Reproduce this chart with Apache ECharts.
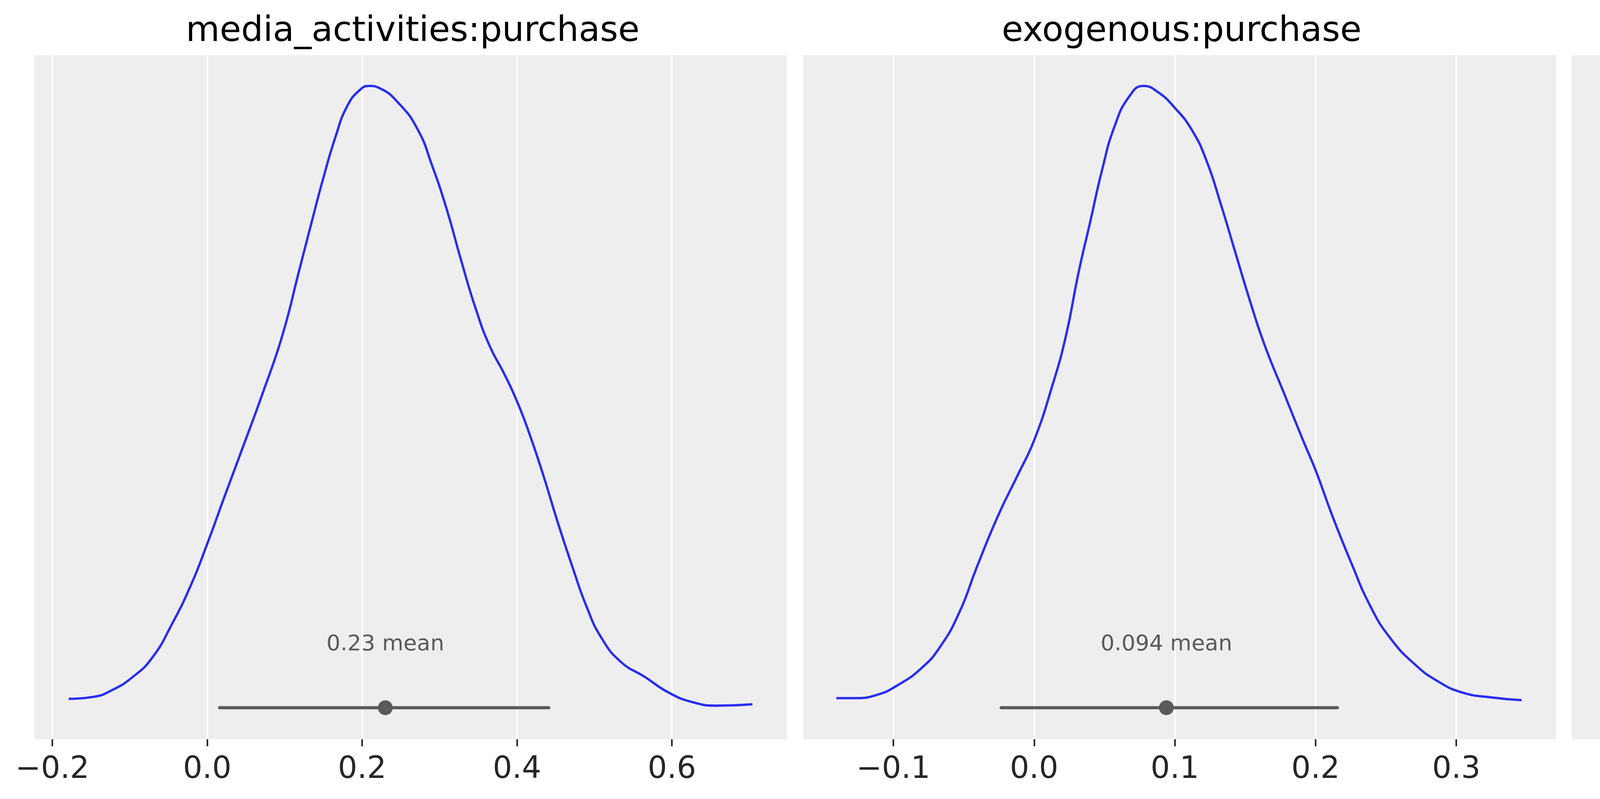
<!DOCTYPE html>
<html>
<head>
<meta charset="utf-8">
<title>posterior</title>
<script src="https://cdn.jsdelivr.net/npm/echarts@6/dist/echarts.min.js"></script>
<style>
html, body { margin: 0; padding: 0; background: #fff; }
#posterior { width: 6046px; height: 2046px; }
</style>
</head>
<body>
<div id="posterior"></div>
<script>
// panel titles
var titles = ['media_activities:purchase', 'exogenous:purchase', 'brand_search:purchase'];

// kde curves: [value, height] (height on a 0..100 scale)
var mediaKde = [
    [-0.179, 6.1], [-0.146, 6.4], [-0.124, 7.3], [-0.096, 9.3], [-0.071, 12.1], [-0.046, 16.9],
    [-0.021, 22.7], [0.0, 28.7], [0.022, 35.5], [0.047, 43.1], [0.072, 50.8], [0.097, 59.1],
    [0.119, 68.7], [0.135, 75.7], [0.150, 82.1], [0.166, 88.2], [0.181, 92.6], [0.197, 94.9],
    [0.209, 95.5], [0.222, 95.2], [0.247, 93.0], [0.272, 89.1], [0.290, 84.0], [0.309, 77.6],
    [0.328, 70.0], [0.347, 62.9], [0.365, 57.5], [0.384, 53.4], [0.400, 49.5], [0.415, 45.1],
    [0.434, 38.7], [0.453, 31.7], [0.472, 25.2], [0.490, 19.5], [0.509, 15.0], [0.534, 11.5],
    [0.565, 9.3], [0.596, 7.0], [0.627, 5.6], [0.658, 5.1], [0.704, 5.3]
];
var exogenousKde = [
    [-0.1405, 6.2], [-0.1268, 6.2], [-0.1113, 6.7], [-0.0976, 8.0], [-0.0804, 10.5], [-0.0667, 13.7],
    [-0.0529, 18.8], [-0.0409, 25.2], [-0.0254, 32.9], [-0.0117, 38.7], [0.0, 43.8], [0.0124, 51.4],
    [0.0227, 59.1], [0.0313, 68.0], [0.0399, 75.7], [0.0485, 83.4], [0.0570, 89.5], [0.0674, 93.9],
    [0.0777, 95.5], [0.0880, 94.6], [0.1000, 92.3], [0.1120, 89.1], [0.1223, 84.7], [0.1326, 78.3],
    [0.1430, 71.2], [0.1533, 64.2], [0.1636, 57.8], [0.1773, 50.8], [0.1911, 43.8], [0.2003, 39.3],
    [0.2117, 32.9], [0.2254, 25.9], [0.2392, 19.5], [0.2529, 15.0], [0.2701, 11.2], [0.2873, 8.6],
    [0.3045, 7.0], [0.3251, 6.3], [0.3464, 5.9]
];
var brandKde = [
    [0.1238, 6.2], [0.1312, 6.1], [0.1473, 5.7], [0.1617, 6.1], [0.1778, 7.0], [0.1891, 8.6],
    [0.2000, 10.9], [0.2100, 13.7], [0.2212, 18.2], [0.2325, 22.7], [0.2453, 27.2], [0.2550, 31.0],
    [0.2614, 34.8], [0.2678, 39.9], [0.2759, 47.0], [0.2855, 52.7], [0.2936, 56.5], [0.3003, 59.7],
    [0.3096, 64.2], [0.3193, 70.6], [0.3289, 77.0], [0.3386, 84.0], [0.3482, 89.5], [0.3579, 93.6],
    [0.3675, 95.5], [0.3740, 94.9], [0.3836, 91.7], [0.3932, 87.2], [0.4003, 83.7], [0.4093, 79.5],
    [0.4190, 73.2], [0.4286, 65.5], [0.4383, 56.5], [0.4479, 48.9], [0.4576, 42.5], [0.4672, 36.1],
    [0.4768, 31.0], [0.4865, 25.9], [0.4961, 20.8], [0.5058, 16.3], [0.5154, 13.7], [0.5283, 11.5],
    [0.5412, 9.6], [0.5540, 7.7], [0.5669, 6.6], [0.5797, 6.3]
];

// hdi intervals, means and the mean labels
var hdiLow = [0.016, -0.0234, 0.2469];
var hdiHigh = [0.441, 0.2155, 0.4775];
var means = [0.230, 0.094, 0.365];
var meanLabels = ['0.23 mean', '0.094 mean', '0.36 mean'];
var hdiHeight = 4.8;
var labelHeight = 14.0;

// x ranges and ticks of each panel
var xMin = [-0.2232, -0.1641, 0.1019];
var xMax = [0.7488, 0.3710, 0.6018];
var ticks = [
    [-0.2, 0.0, 0.2, 0.4, 0.6],
    [-0.1, 0.0, 0.1, 0.2, 0.3],
    [0.2, 0.3, 0.4, 0.5, 0.6]
];

(function(){

var chart = echarts.init(document.getElementById('posterior'), null, {renderer: 'canvas'});
var kdes = [mediaKde, exogenousKde, brandKde];
var lefts = [88, 2056, 4024];
var widths = [1927, 1928, 1927];
var font = 'DejaVu Sans';
var grey = '#5a5a5a';

function tickLabel(v) {
    return (v < 0 ? '\u2212' : '') + Math.abs(v).toFixed(1);
}

var grids = [], xAxes = [], yAxes = [], series = [], titleList = [];

for (var i = 0; i < 3; i++) {
    grids.push({
        left: lefts[i], top: 141, width: widths[i], height: 1752,
        show: true, backgroundColor: '#eeeeee', borderWidth: 0
    });
    titleList.push({
        text: titles[i],
        left: lefts[i] + widths[i] / 2,
        top: 32,
        textAlign: 'center',
        textStyle: {fontFamily: font, fontSize: 89, fontWeight: 'normal', color: '#000000'}
    });
    xAxes.push({
        type: 'value', gridIndex: i, min: xMin[i], max: xMax[i],
        axisLine: {show: false},
        axisTick: {show: true, customValues: ticks[i], length: 18,
            lineStyle: {color: '#262626', width: 4}},
        axisLabel: {show: true, customValues: ticks[i], margin: 40,
            fontFamily: font, fontSize: 78, color: '#262626', formatter: tickLabel},
        splitLine: {show: true, lineStyle: {color: '#ffffff', width: 4}}
    });
    yAxes.push({
        type: 'value', gridIndex: i, min: 0.2, max: 100, show: false,
        splitLine: {show: false}
    });
    series.push({
        type: 'line', xAxisIndex: i, yAxisIndex: i,
        data: kdes[i], smooth: 0.5, showSymbol: false, symbol: 'none',
        lineStyle: {color: '#2a2eec', width: 6}, z: 3
    });
    series.push({
        type: 'line', xAxisIndex: i, yAxisIndex: i,
        data: [[hdiLow[i], hdiHeight], [hdiHigh[i], hdiHeight]],
        showSymbol: false, symbol: 'none',
        lineStyle: {color: grey, width: 8, cap: 'round'}, z: 4
    });
    series.push({
        type: 'scatter', xAxisIndex: i, yAxisIndex: i,
        data: [[means[i], hdiHeight]], symbolSize: 38,
        itemStyle: {color: grey, opacity: 1}, z: 5
    });
    series.push({
        type: 'scatter', xAxisIndex: i, yAxisIndex: i,
        data: [[means[i], labelHeight]], symbolSize: 1,
        itemStyle: {color: '#eeeeee', opacity: 1},
        label: {show: true, position: 'inside', formatter: meanLabels[i],
            fontFamily: font, fontSize: 56, color: grey, opacity: 1},
        z: 5
    });
}

var option = {
    backgroundColor: '#ffffff',
    animation: false,
    title: titleList,
    grid: grids,
    xAxis: xAxes,
    yAxis: yAxes,
    series: series
};

chart.setOption(option);

})();
</script>
</body>
</html>
